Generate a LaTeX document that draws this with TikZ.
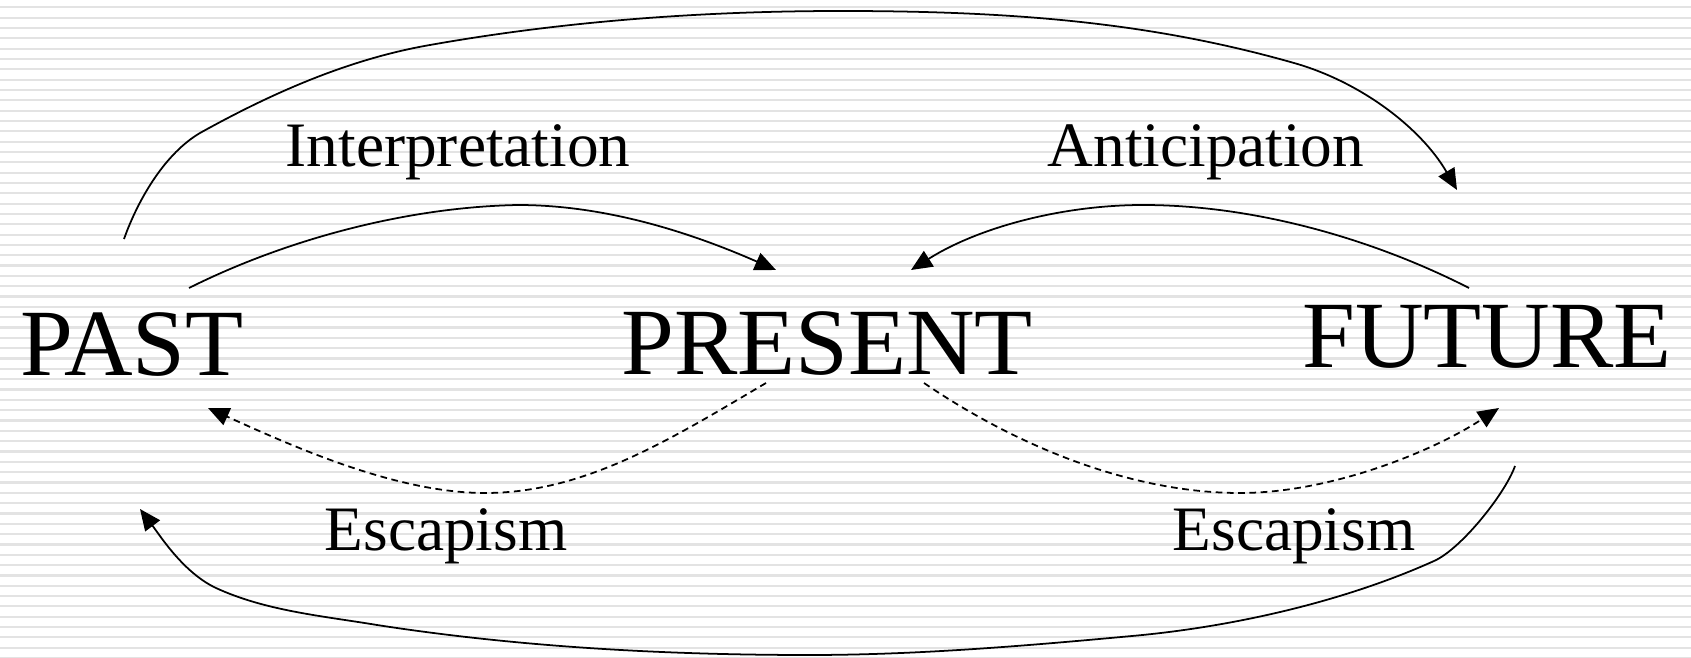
\documentclass[tikz,border=0pt]{standalone}
\usepackage{fontspec}
\setmainfont{Liberation Serif}
\usetikzlibrary{arrows.meta}

\begin{document}
\begin{tikzpicture}[x=0.01cm,y=-0.01cm,line width=0.5pt,>={Triangle[length=6pt,width=5.2pt]},
    word/.style={anchor=base,inner sep=0pt,font=\fontsize{27}{32}\selectfont},
    lbl/.style={anchor=base,inner sep=0pt,font=\fontsize{18}{22}\selectfont},
    stripe/.style={line width=0.6pt,gray!22},
    escape/.style={dash pattern=on 1.9pt off 1.3pt}]

    % BACKGROUND
    \useasboundingbox (0,0) rectangle (1691,658);
    \foreach \k in {0,...,63}
        \draw[stripe] (0,{7.3+10.33*\k}) -- (1691,{7.3+10.33*\k});

    % WORDS
    \node[word] (past) at (132,376) {PAST};
    \node[word] (present) at (827,375) {PRESENT};
    \node[word] (future) at (1487,368) {FUTURE};

    \node[lbl] (interp) at (458,167) {Interpretation};
    \node[lbl] (antic) at (1206,167) {Anticipation};
    \node[lbl] (escl) at (446,550) {Escapism};
    \node[lbl] (escr) at (1294,550) {Escapism};

    % END POINTS
    \coordinate (v1) at (124,239);
    \coordinate (v2) at (1457,190);
    \coordinate (v3) at (189,288);
    \coordinate (v4) at (776,270);
    \coordinate (v5) at (1469,288);
    \coordinate (v6) at (911,270);
    \coordinate (v7) at (766,383);
    \coordinate (v8) at (208,408);
    \coordinate (v9) at (924,383);
    \coordinate (v10) at (1499,408);
    \coordinate (v11) at (1515,466);
    \coordinate (v12) at (140,509);

    % UPPER ARROWS
    \draw[->] (v1) .. controls (139,197) and (166,153) .. (200,133)
        .. controls (272,93) and (349,59) .. (430,45)
        .. controls (565,21) and (704,11) .. (841,11)
        .. controls (1011,11) and (1150,22) .. (1294,63)
        .. controls (1361,82) and (1421,128) .. (v2);
    \draw[->] (v3) .. controls (287,239) and (408,207) .. (518,205)
        .. controls (608,205) and (694,234) .. (v4);
    \draw[->] (v5) .. controls (1371,238) and (1253,205) .. (1143,205)
        .. controls (1063,205) and (979,227) .. (v6);

    % LOWER ARROWS
    \draw[->,escape] (v7) .. controls (671,439) and (585,493) .. (485,493)
        .. controls (395,493) and (290,445) .. (v8);
    \draw[->,escape] (v9) .. controls (1015,445) and (1130,493) .. (1240,493)
        .. controls (1330,493) and (1432,452) .. (v10);
    \draw[->] (v11) .. controls (1505,494) and (1461,549) .. (1434,561)
        .. controls (1343,602) and (1232,627) .. (1132,636)
        .. controls (1024,646) and (917,655) .. (809,655)
        .. controls (665,655) and (519,647) .. (377,625)
        .. controls (323,616) and (266,611) .. (216,588)
        .. controls (184,573) and (161,537) .. (v12);

\end{tikzpicture}
\end{document}
